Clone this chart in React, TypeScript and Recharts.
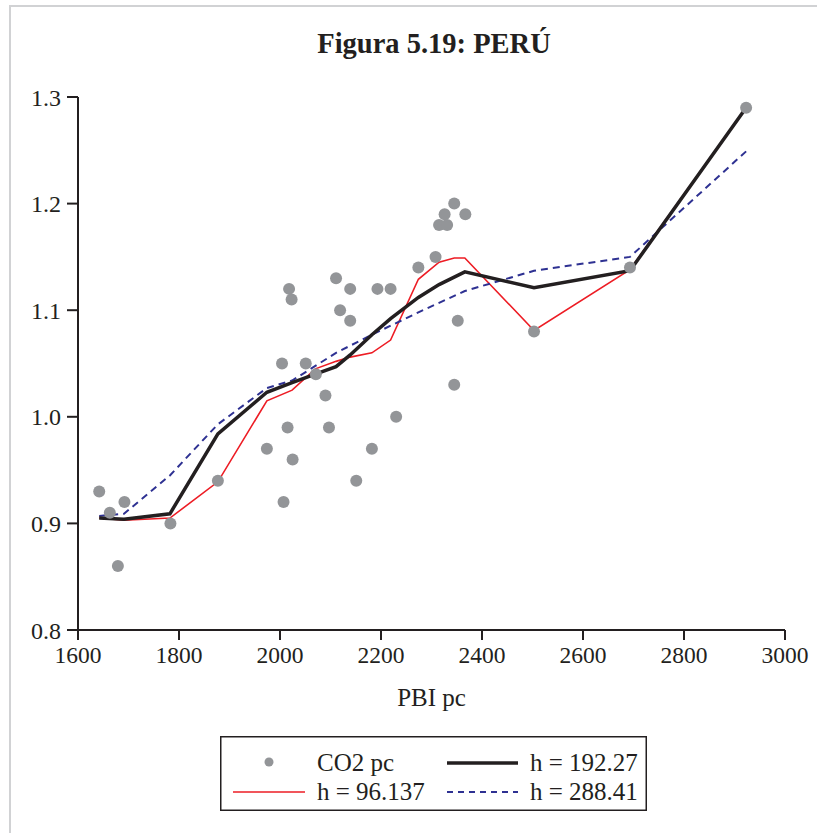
import React from "react";
import {
  ComposedChart,
  Scatter,
  Line,
  XAxis,
  YAxis,
  Legend,
} from "recharts";

// CO2 per capita vs PBI per capita, Peru
const pbiPc = [
  1642, 1663, 1692, 1679, 1783, 1877, 1974, 2007, 2015, 2025,
  2004, 2018, 2023, 2051, 2071, 2090, 2097, 2111, 2119, 2139,
  2139, 2151, 2182, 2193, 2219, 2230, 2274, 2308, 2315, 2331,
  2326, 2345, 2367, 2345, 2352, 2503, 2693, 2923,
];
const co2Pc = [
  0.93, 0.91, 0.92, 0.86, 0.90, 0.94, 0.97, 0.92, 0.99, 0.96,
  1.05, 1.12, 1.11, 1.05, 1.04, 1.02, 0.99, 1.13, 1.10, 1.09,
  1.12, 0.94, 0.97, 1.12, 1.12, 1.00, 1.14, 1.15, 1.18, 1.18,
  1.19, 1.20, 1.19, 1.03, 1.09, 1.08, 1.14, 1.29,
];

// kernel fits, h = 96.137
const fitSmallX = [1642, 1691, 1782, 1877, 1974, 2024, 2070, 2111, 2139, 2182, 2219, 2274, 2315, 2345, 2366, 2503, 2693, 2923];
const fitSmallY = [0.905, 0.903, 0.905, 0.939, 1.015, 1.025, 1.045, 1.052, 1.056, 1.060, 1.072, 1.129, 1.145, 1.149, 1.149, 1.081, 1.138, 1.290];

// h = 192.27
const fitMidX = [1642, 1691, 1782, 1877, 1974, 2024, 2070, 2111, 2139, 2182, 2219, 2274, 2315, 2366, 2503, 2693, 2923];
const fitMidY = [0.905, 0.904, 0.909, 0.984, 1.023, 1.032, 1.040, 1.047, 1.058, 1.077, 1.092, 1.112, 1.124, 1.136, 1.121, 1.137, 1.290];

// h = 288.41
const fitBigX = [1642, 1691, 1782, 1877, 1974, 2024, 2111, 2182, 2274, 2366, 2503, 2693, 2923];
const fitBigY = [0.907, 0.909, 0.945, 0.993, 1.027, 1.034, 1.060, 1.077, 1.098, 1.118, 1.137, 1.150, 1.249];

const xTicks = [1600, 1800, 2000, 2200, 2400, 2600, 2800, 3000];
const yTicks = [0.8, 0.9, 1.0, 1.1, 1.2, 1.3];

const FONT = "'Liberation Serif', 'Times New Roman', serif";
const INK = "#231f20";

const zip = (xs: number[], ys: number[]) => xs.map((x, i) => ({ x, y: ys[i] }));

const renderLegend = () => {
  const txt = { fontFamily: FONT, fontSize: 25, fill: INK };
  return (
    <svg width={427} height={75} style={{ display: "block" }}>
      <rect x={0.75} y={0.75} width={425.5} height={73.5} fill="#fff" stroke={INK} strokeWidth={1.5} />
      <circle cx={49} cy={26} r={4.5} fill="#939598" />
      <text x={97} y={35} {...txt}>CO2 pc</text>
      <line x1={227} y1={27} x2={298} y2={27} stroke={INK} strokeWidth={3.5} />
      <text x={310} y={35} {...txt}>h = 192.27</text>
      <line x1={13} y1={56} x2={85} y2={56} stroke="#ed1c24" strokeWidth={1.5} />
      <text x={97} y={64} {...txt}>h = 96.137</text>
      <line x1={227} y1={56} x2={298} y2={56} stroke="#2e3192" strokeWidth={1.8} strokeDasharray="6 5" />
      <text x={310} y={64} {...txt}>h = 288.41</text>
    </svg>
  );
};

export default function App() {
  const points = zip(pbiPc, co2Pc);
  return (
    <div style={{ position: "absolute", left: 0, top: 0, width: 817, height: 833, background: "#fff", overflow: "hidden" }}>
      <div
        style={{
          position: "absolute",
          left: 9,
          top: 5,
          right: 0,
          bottom: 0,
          borderLeft: "2px solid #d1d2d4",
          borderTop: "2px solid #d1d2d4",
        }}
      />
      <div
        style={{
          position: "absolute",
          left: 0,
          width: 868,
          top: 28,
          textAlign: "center",
          fontFamily: FONT,
          fontWeight: "bold",
          fontSize: 28.5,
          color: INK,
        }}
      >
        Figura 5.19: PERÚ
      </div>
      <ComposedChart
        width={817}
        height={833}
        margin={{ top: 97, right: 32, left: 18, bottom: 98 }}
        style={{ position: "absolute", left: 0, top: 0 }}
      >
        <XAxis
          type="number"
          dataKey="x"
          domain={[1600, 3000]}
          ticks={xTicks}
          interval={0}
          height={30}
          tickSize={10}
          tickMargin={6}
          stroke={INK}
          strokeWidth={2}
          tick={{ fill: INK, fontFamily: FONT, fontSize: 23.5 }}
          label={{ value: "PBI pc", position: "bottom", offset: 28, fill: INK, fontFamily: FONT, fontSize: 25 }}
          allowDataOverflow
        />
        <YAxis
          type="number"
          dataKey="y"
          domain={[0.8, 1.3]}
          ticks={yTicks}
          interval={0}
          width={60}
          tickSize={11}
          tickMargin={6}
          stroke={INK}
          strokeWidth={2}
          tickFormatter={(v: number) => v.toFixed(1)}
          tick={{ fill: INK, fontFamily: FONT, fontSize: 24 }}
          allowDataOverflow
        />
        <Legend
          content={renderLegend}
          wrapperStyle={{ position: "absolute", left: 220, top: 736, width: 427, height: 75, bottom: "auto" }}
        />
        <Scatter name="CO2 pc" data={points} dataKey="y" fill="#939598" shape={(p: any) => <circle cx={p.cx} cy={p.cy} r={6} fill="#939598" />} isAnimationActive={false} />
        <Line name="h = 96.137" data={zip(fitSmallX, fitSmallY)} dataKey="y" type="linear" stroke="#ed1c24" strokeWidth={1.6} dot={false} activeDot={false} isAnimationActive={false} />
        <Line name="h = 288.41" data={zip(fitBigX, fitBigY)} dataKey="y" type="linear" stroke="#2e3192" strokeWidth={2} strokeDasharray="7 5" dot={false} activeDot={false} isAnimationActive={false} />
        <Line name="h = 192.27" data={zip(fitMidX, fitMidY)} dataKey="y" type="linear" stroke={INK} strokeWidth={3.5} dot={false} activeDot={false} isAnimationActive={false} />
      </ComposedChart>
    </div>
  );
}
